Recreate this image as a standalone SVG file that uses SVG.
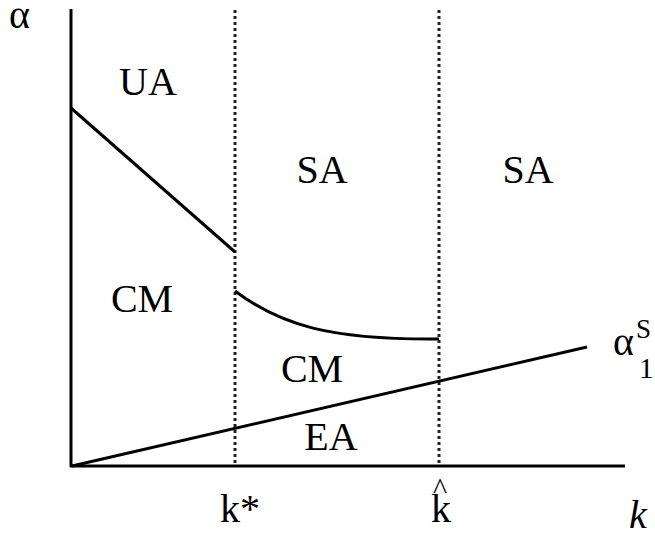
<svg xmlns="http://www.w3.org/2000/svg" width="655" height="536" viewBox="0 0 655 536">
<style>
.t{font-family:"Liberation Serif","Times New Roman",serif;font-size:40px;fill:#000}
.ln{stroke:#000;stroke-width:3;fill:none}
.dot{stroke:#222;stroke-width:3;stroke-dasharray:3 3;fill:none}
</style>
<rect width="655" height="536" fill="#fff"/>
<g id="axes">
<line class="ln" x1="71" y1="9" x2="71" y2="467"/>
<line class="ln" x1="70" y1="466" x2="625" y2="466"/>
</g>
<g id="guides">
<line class="dot" x1="235" y1="10" x2="235" y2="465"/>
<line class="dot" x1="439" y1="10" x2="439" y2="465"/>
</g>
<g id="connectors">
<line class="ln" x1="71" y1="108" x2="235" y2="252"/>
<path class="ln" d="M235,291 C280,325 330,340 439,339"/>
<line class="ln" x1="72" y1="466" x2="587" y2="347"/>
</g>
<g id="labels">
<text class="t" x="9" y="28">α</text>
<text class="t" x="148" y="95" text-anchor="middle">UA</text>
<text class="t" x="322" y="183" text-anchor="middle">SA</text>
<text class="t" x="528" y="183" text-anchor="middle">SA</text>
<text class="t" x="142" y="312" text-anchor="middle">CM</text>
<text class="t" x="312" y="382" text-anchor="middle">CM</text>
<text class="t" x="331" y="450" text-anchor="middle">EA</text>
<text class="t" x="240" y="522" text-anchor="middle">k*</text>
<text class="t" x="441" y="522" text-anchor="middle">k<tspan x="440" y="499" font-size="30">^</tspan></text>
<text class="t" x="638" y="528" text-anchor="middle" font-style="italic">k</text>
<text class="t" x="613" y="355" font-size="36">α<tspan x="636" y="338" font-size="27">S</tspan><tspan x="639" y="378" font-size="29">1</tspan></text>
</g>
</svg>
